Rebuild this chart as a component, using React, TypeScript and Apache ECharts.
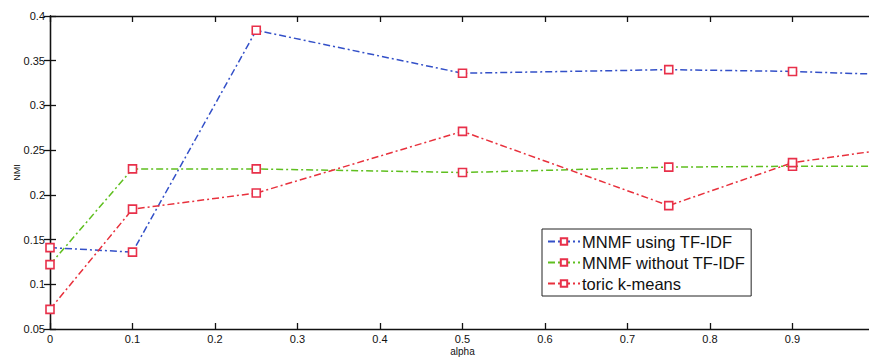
import React, { useEffect, useRef } from "react";
import * as echarts from "echarts";

const alphaValues = [0, 0.1, 0.25, 0.5, 0.75, 0.9, 1.0];
const mnmfTfidf = [0.141, 0.136, 0.384, 0.336, 0.34, 0.338, 0.335];
const mnmfNoTfidf = [0.122, 0.229, 0.229, 0.225, 0.231, 0.232, 0.232];
const toricKMeans = [0.072, 0.184, 0.202, 0.271, 0.188, 0.236, 0.249];
const seriesNames = ["MNMF using TF-IDF", "MNMF without TF-IDF", "toric k-means"];
const lineColors = ["#3350c8", "#5fbf1f", "#e8303c"];

const markerColor = "#e8304a";
const dashDot = [7, 3, 2, 3];

function pairs(ys: number[]) {
  return alphaValues.map((x, i) => [x, ys[i]]);
}

export default function App() {
  const ref = useRef<HTMLDivElement>(null);

  useEffect(() => {
    if (!ref.current) return;
    const chart = echarts.init(ref.current, null, { renderer: "svg" });
    const font = "'Liberation Sans', Arial, sans-serif";
    const axisLine = { show: true, lineStyle: { color: "#111", width: 1.3 } };
    const tick = { show: true, inside: true, length: 6, lineStyle: { color: "#111", width: 1.3 } };
    const label = { color: "#111", fontFamily: font, fontSize: 11 };

    const makeSeries = (name: string, ys: number[], color: string) => ({
      name,
      type: "line",
      data: pairs(ys),
      symbol: "rect",
      symbolSize: 8,
      showSymbol: true,
      lineStyle: { color, width: 1.5, type: dashDot },
      itemStyle: { color: "#fff", borderColor: markerColor, borderWidth: 1.6 },
      emphasis: { disabled: true },
      z: 3,
    });

    chart.setOption({
      animation: false,
      backgroundColor: "#fff",
      textStyle: { fontFamily: font },
      grid: {
        left: 50,
        top: 16,
        width: 825,
        height: 313,
        containLabel: false,
        outerBoundsMode: "none",
      },
      legend: {
        orient: "vertical",
        left: 542,
        top: 229,
        data: seriesNames,
        itemWidth: 32,
        itemHeight: 8,
        itemGap: 4,
        padding: [4, 6, 4, 5],
        borderColor: "#222",
        borderWidth: 1,
        backgroundColor: "#fff",
        textStyle: { fontFamily: font, fontSize: 16.5, color: "#111", padding: [0, 0, 0, -3] },
        selectedMode: false,
      },
      xAxis: [
        {
          type: "value",
          min: 0,
          max: 1,
          interval: 0.1,
          name: "alpha",
          nameLocation: "middle",
          nameGap: 17,
          nameMoveOverlap: false,
          nameTextStyle: { color: "#111", fontFamily: font, fontSize: 10 },
          axisLine,
          axisTick: tick,
          axisLabel: { ...label, margin: 4, showMaxLabel: false },
          splitLine: { show: false },
        },
        {
          type: "value",
          position: "top",
          min: 0,
          max: 1,
          interval: 0.1,
          axisLine,
          axisTick: tick,
          axisLabel: { show: false },
          splitLine: { show: false },
        },
      ],
      yAxis: [
        {
          type: "value",
          min: 0.05,
          max: 0.4,
          interval: 0.05,
          name: "NMI",
          nameLocation: "middle",
          nameGap: 29,
          nameMoveOverlap: false,
          nameTextStyle: { color: "#111", fontFamily: font, fontSize: 9 },
          axisLine,
          axisTick: tick,
          axisLabel: { ...label, margin: 5, formatter: (v: number) => String(+v.toFixed(2)) },
          splitLine: { show: false },
        },
        {
          type: "value",
          position: "right",
          min: 0.05,
          max: 0.4,
          interval: 0.05,
          axisLine,
          axisTick: tick,
          axisLabel: { show: false },
          splitLine: { show: false },
        },
      ],
      series: [
        makeSeries(seriesNames[0], mnmfTfidf, lineColors[0]),
        makeSeries(seriesNames[1], mnmfNoTfidf, lineColors[1]),
        makeSeries(seriesNames[2], toricKMeans, lineColors[2]),
      ],
    });

    return () => chart.dispose();
  }, []);

  return <div ref={ref} style={{ width: 869, height: 360, position: "absolute", left: 0, top: 0 }} />;
}
